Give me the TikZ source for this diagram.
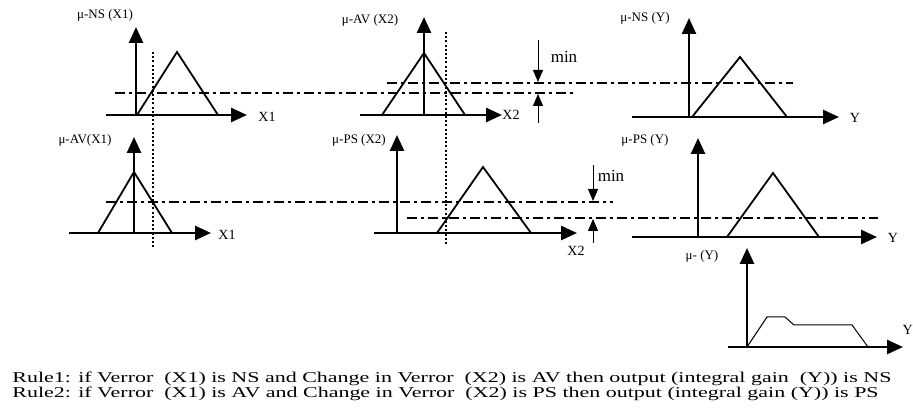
\documentclass[tikz,border=0pt]{standalone}
\usepackage{graphicx}
\usepackage{fontspec}
\setmainfont{Liberation Serif}
\usetikzlibrary{arrows.meta}

\tikzset{
  axisline/.style={line width=1.3pt, -{Triangle[length=8pt,width=7pt]}},
  mf/.style={line width=0.9pt, line join=miter},
  cutline/.style={line width=0.9pt, dash pattern=on 5pt off 2pt on 1.5pt off 2pt},
  probe/.style={line width=1pt, dash pattern=on 1pt off 1.1pt},
  minarrow/.style={line width=0.5pt, -{Triangle[length=6pt,width=5pt]}},
  mulabel/.style={font=\fontsize{6.5}{8}\selectfont, inner sep=0pt},
  varlabel/.style={font=\fontsize{7}{8}\selectfont, inner sep=0pt},
  rulelabel/.style={font=\fontsize{7.5}{8}\selectfont, inner sep=0pt, anchor=base west},
}
\newcommand{\rulewide}[1]{\scalebox{1.465}[1]{#1}}

\begin{document}
\begin{tikzpicture}[x=0.5pt,y=-0.5pt]
\useasboundingbox (0,0) rectangle (913,410);

%---------------- row 1: rule 1 -----------------
% mu-NS(X1)
\draw[axisline] (136,115) -- (136,27);
\draw[axisline] (106,115) -- (247,115);
\draw[mf] (137,115) -- (177,52) -- (218,115);
\node[mulabel] (nsx1) at (105,15) {μ-NS (X1)};
\node[varlabel] (xa) at (267,117) {X1};
% mu-AV(X2)
\draw[axisline] (424,115) -- (424,17);
\draw[axisline] (360,115) -- (502,115);
\draw[mf] (382,115) -- (424,53) -- (465,115);
\node[mulabel] (avx2) at (370,20) {μ-AV (X2)};
\node[varlabel, anchor=west] (xb) at (502,115) {X2};
% mu-NS(Y)
\draw[axisline] (689,117) -- (689,18);
\draw[axisline] (632,117) -- (839,117);
\draw[mf] (692,117) -- (740,57) -- (787,117);
\node[mulabel] (nsy) at (645,18) {μ-NS (Y)};
\node[varlabel] (ya) at (855,118) {Y};
% cut levels and min
\draw[cutline] (115,93) -- (573,93);
\draw[cutline] (387,83) -- (793,83);
\draw[minarrow] (538,40) -- (538,82);
\draw[minarrow] (538,123) -- (538,94);
\node[font=\fontsize{8.5}{9}\selectfont, inner sep=0pt] (mina) at (564,57) {min};

%---------------- row 2: rule 2 -----------------
% mu-AV(X1)
\draw[axisline] (134,233) -- (134,137);
\draw[axisline] (69,233) -- (211,233);
\draw[mf] (98,233) -- (134,172) -- (172,233);
\node[mulabel] (avx1) at (85,140) {μ-AV(X1)};
\node[varlabel] (xc) at (227,235) {X1};
% mu-PS(X2)
\draw[axisline] (397,233) -- (397,135);
\draw[axisline] (374,233) -- (577,233);
\draw[mf] (437,233) -- (483,167) -- (531,233);
\node[mulabel] (psx2) at (359,140) {μ-PS (X2)};
\node[varlabel] (xd) at (576,251) {X2};
% mu-PS(Y)
\draw[axisline] (698,237) -- (698,138);
\draw[axisline] (632,237) -- (877,237);
\draw[mf] (727,237) -- (773,173) -- (819,237);
\node[mulabel] (psy) at (645,140) {μ-PS (Y)};
\node[varlabel] (yb) at (893,238) {Y};
% cut levels and min
\draw[cutline] (106,202) -- (613,202);
\draw[cutline] (407,218) -- (878,218);
\draw[minarrow] (593,165) -- (593,201);
\draw[minarrow] (593,243) -- (593,219);
\node[font=\fontsize{8.5}{9}\selectfont, inner sep=0pt] (minb) at (611,176) {min};

% crisp inputs
\draw[probe] (153,52) -- (153,248);
\draw[probe] (446,32) -- (446,246);

%---------------- aggregated output -----------------
\draw[axisline] (747,347) -- (747,248);
\draw[axisline] (728,347) -- (903,347);
\draw[line width=0.5pt] (747,347) -- (767,317) -- (785,317) -- (794,325)
      -- (852,325) -- (868,347);
\node[mulabel] (aggy) at (702,256) {μ- (Y)};
\node[varlabel, anchor=east] (yc) at (913,330) {Y};

%---------------- rules -----------------
\node[rulelabel] (rule1) at (12,382)
  {\rulewide{Rule1: if Verror\ \ (X1) is NS and Change in Verror\ \ (X2) is AV then output (integral gain\ \ (Y)) is NS}};
\node[rulelabel] (rule2) at (12,397)
  {\rulewide{Rule2: if Verror\ \ (X1) is AV and Change in Verror\ \ (X2) is PS then output (integral gain (Y)) is PS}};

\end{tikzpicture}
\end{document}
